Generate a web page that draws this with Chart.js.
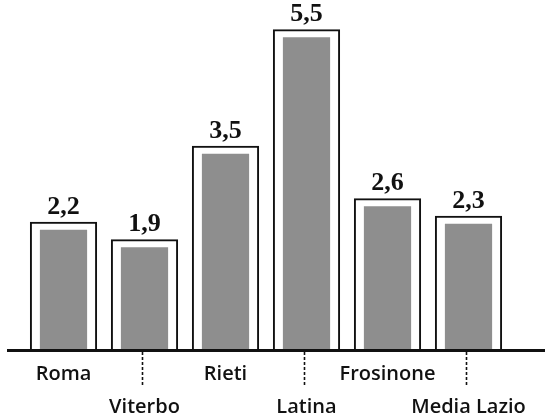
<!DOCTYPE html>
<html>
<head>
<meta charset="utf-8">
<script src="https://cdn.jsdelivr.net/npm/chart.js@4"></script>
<style>
  html, body { margin: 0; padding: 0; background: #fff; }
  #wrap { width: 545px; height: 417px; }
</style>
</head>
<body>
<div id="wrap"><canvas id="bars"></canvas></div>
<script>
const provinces = ['Roma', 'Viterbo', 'Rieti', 'Latina', 'Frosinone', 'Media Lazio'];
const values = [2.2, 1.9, 3.5, 5.5, 2.6, 2.3];
const valueLabels = ['2,2', '1,9', '3,5', '5,5', '2,6', '2,3'];

// baseline + dotted leaders for the lower row of labels
const axisLines = {
    id: 'axisLines',
    afterDatasetsDraw(chart) {
        const ctx = chart.ctx;
        const x = chart.scales.x;
        const bottom = chart.chartArea.bottom;
        ctx.save();
        ctx.strokeStyle = '#111';
        ctx.lineWidth = 1.6;
        ctx.setLineDash([3, 2]);
        provinces.forEach((p, i) => {
            if (i % 2 === 1) {
                const px = Math.round(x.getPixelForValue(i)) - 2.5;
                ctx.beginPath();
                ctx.moveTo(px, bottom + 2);
                ctx.lineTo(px, bottom + 36);
                ctx.stroke();
            }
        });
        ctx.setLineDash([]);
        ctx.fillStyle = '#111';
        ctx.fillRect(7, bottom - 1, chart.width - 7, 3);
        ctx.restore();
    }
};

// numbers above the bars
const valueText = {
    id: 'valueText',
    afterDatasetsDraw(chart) {
        const ctx = chart.ctx;
        const meta = chart.getDatasetMeta(0);
        ctx.save();
        ctx.fillStyle = '#111';
        ctx.font = 'bold 26px "Liberation Serif"';
        ctx.textAlign = 'center';
        ctx.textBaseline = 'alphabetic';
        meta.data.forEach((bar, i) => {
            ctx.fillText(valueLabels[i], bar.x, bar.y - 8);
        });
        ctx.restore();
    }
};

new Chart(document.getElementById('bars'), {
    type: 'bar',
    data: {
        labels: provinces,
        datasets: [{
            // outline (drawn on top)
            data: values,
            backgroundColor: 'rgba(0,0,0,0)',
            borderColor: '#111',
            borderWidth: 2,
            borderSkipped: 'bottom',
            barPercentage: 0.83,
            categoryPercentage: 1,
            grouped: false
        }, {
            // grey core with white margin
            data: values,
            backgroundColor: '#8e8e8e',
            borderColor: '#ffffff',
            borderWidth: { top: 8, left: 10, right: 10, bottom: 0 },
            borderSkipped: 'bottom',
            barPercentage: 0.83,
            categoryPercentage: 1,
            grouped: false
        }]
    },
    options: {
        responsive: true,
        maintainAspectRatio: false,
        animation: false,
        layout: { padding: { left: 23, right: 36, top: 0, bottom: 0 } },
        plugins: { legend: { display: false }, tooltip: { enabled: false } },
        scales: {
            y: { display: false, min: 0, max: 6 },
            x: {
                grid: { display: false },
                border: { display: false },
                afterFit(scale) { scale.height = 67; },
                ticks: {
                    padding: 0,
                    color: '#111',
                    maxRotation: 0,
                    minRotation: 0,
                    autoSkip: false,
                    font: { family: '"Open Sans"', size: 20, weight: 600, lineHeight: 1.65 },
                    callback(val, i) {
                        const name = provinces[i];
                        return i % 2 === 0 ? [name, ''] : ['', name];
                    }
                }
            }
        }
    },
    plugins: [axisLines, valueText]
});
</script>
</body>
</html>
